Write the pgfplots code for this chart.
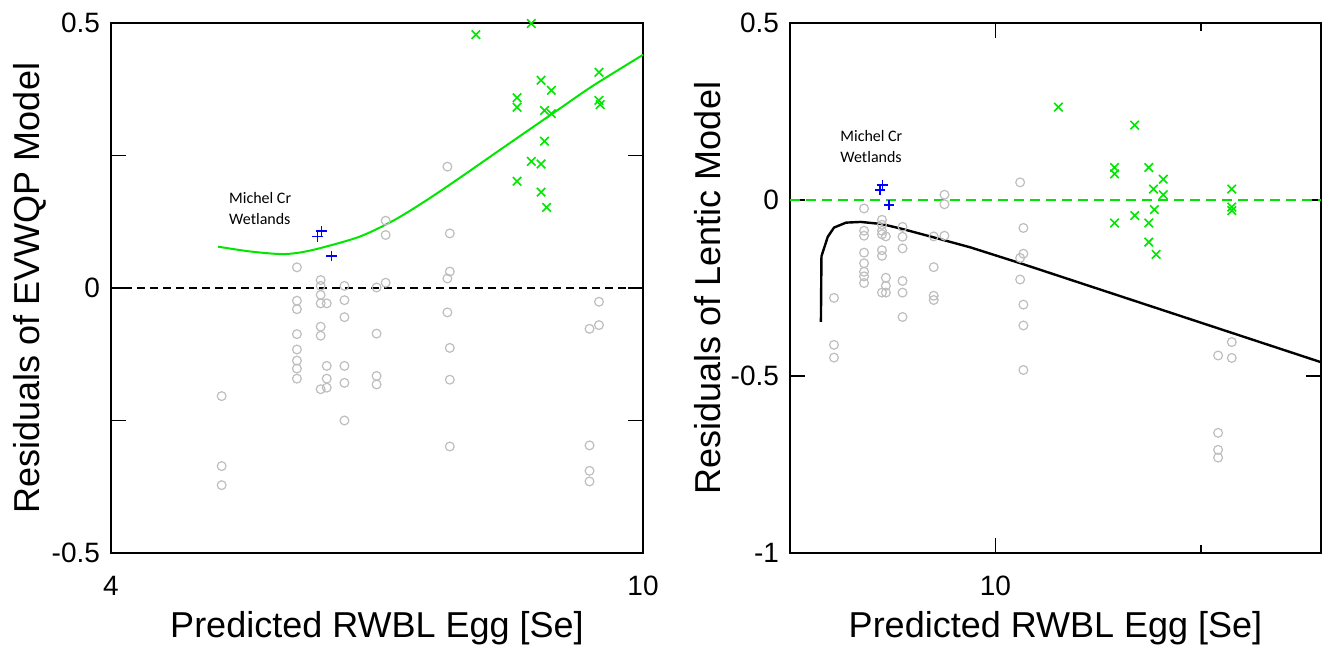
\documentclass[border=0pt]{standalone}
\usepackage{fontspec}
\setmainfont{Liberation Sans}
\newfontfamily\calibri{Carlito}
\usepackage{pgfplots}
\pgfplotsset{compat=1.18}

\definecolor{ptgray}{RGB}{190,190,190}
\definecolor{ptgreen}{RGB}{0,230,0}
\definecolor{ptblue}{RGB}{0,0,255}

\pgfplotsset{
  resid/.style={
    scale only axis, width=266pt, height=265pt,
    anchor=south west, clip=false,
    axis line style={line width=1pt},
    tick align=inside, major tick length=7.5pt, minor tick length=4pt,
    every tick/.style={black, line width=0.9pt},
    tick label style={font=\fontsize{14}{16}\selectfont},
    yticklabel style={xshift=-2pt},
    xticklabel style={yshift=-8pt},
    label style={font=\fontsize{18}{21}\selectfont},
    xlabel style={at={(axis description cs:0.5,-0.1415)}, anchor=center},
    xlabel={Predicted RWBL Egg [Se]},
  },
  grayo/.style={only marks, mark=o, mark size=2.2pt, draw=ptgray, mark options={line width=0.6pt}},
  greenx/.style={only marks, mark=x, mark size=3pt, draw=ptgreen, mark options={line width=0.8pt}},
  bluep/.style={only marks, mark=+, mark size=2.6pt, draw=ptblue, mark options={line width=0.8pt}},
}

\begin{document}
\begin{tikzpicture}
\path[use as bounding box] (0,0) rectangle (665pt,325pt);

% left: EVWQP model
\begin{axis}[xmode=log, resid, at={(55.5pt,48.5pt)},
  xmin=4, xmax=10, ymin=-0.5, ymax=0.5,
  xtick={4,10}, xticklabels={4,10}, minor xtick={},
  ytick={-0.5,-0.25,0,0.25,0.5}, yticklabels={-0.5,{},0,{},0.5},
  ylabel={Residuals of EVWQP Model},
  ylabel style={at={(axis description cs:-0.152,0.5)}, anchor=center},
]
\addplot[grayo] coordinates {
 (4.84,-0.204)(4.84,-0.336)(4.84,-0.372)
 (5.51,0.039)(5.51,-0.024)(5.51,-0.040)(5.51,-0.087)(5.51,-0.116)(5.51,-0.137)(5.51,-0.152)(5.51,-0.171)
 (5.74,0.015)(5.74,0.004)(5.74,-0.013)(5.74,-0.029)(5.74,-0.073)(5.74,-0.090)(5.74,-0.191)
 (5.80,-0.029)(5.80,-0.147)(5.80,-0.171)(5.80,-0.188)
 (5.98,0.004)(5.98,-0.023)(5.98,-0.055)(5.98,-0.147)(5.98,-0.179)(5.98,-0.250)
 (6.32,0.001)(6.32,-0.086)(6.32,-0.166)(6.32,-0.182)
 (6.42,0.127)(6.42,0.100)(6.42,0.010)
 (7.14,0.229)(7.14,0.018)(7.14,-0.046)
 (7.17,0.103)(7.17,0.031)(7.17,-0.113)(7.17,-0.173)(7.17,-0.299)
 (9.12,-0.077)(9.12,-0.297)(9.12,-0.345)(9.12,-0.365)
 (9.27,-0.026)(9.27,-0.070)
};
\addplot[black, dashed, line width=1pt, dash pattern=on 4pt off 2.5pt] coordinates {(4,0)(10,0)};
\addplot[ptgreen, line width=1pt, smooth] coordinates {
 (4.81,0.078)(5.08,0.069)(5.36,0.064)(5.54,0.067)(5.75,0.076)(6.14,0.097)(6.51,0.1276)
 (6.89,0.1657)(7.30,0.2084)(7.73,0.252)(8.18,0.295)(8.67,0.339)(9.18,0.382)(10,0.440)
};
\addplot[greenx] coordinates {
 (7.50,0.478)(8.25,0.499)(8.39,0.392)(8.54,0.373)(8.05,0.359)(8.05,0.341)(8.44,0.335)(8.54,0.329)
 (9.27,0.407)(9.27,0.354)(9.29,0.346)(8.44,0.277)(8.25,0.239)(8.39,0.234)(8.05,0.2015)(8.39,0.181)(8.47,0.152)
};
\addplot[bluep] coordinates {(5.75,0.108)(5.71,0.097)(5.85,0.060)};
\node[font=\calibri\fontsize{8}{10.5}\selectfont, align=left, anchor=west, inner sep=0pt]
  at (axis cs:4.9,0.15) {Michel Cr\\Wetlands};
\end{axis}

% right: Lentic model
\begin{axis}[xmode=log, resid, at={(395pt,48.5pt)}, width=265.5pt,
  xmin=5, xmax=30, ymin=-1, ymax=0.5,
  xtick={10}, xticklabels={10}, minor xtick={20},
  ytick={-1,-0.5,0,0.5}, yticklabels={-1,-0.5,0,0.5},
  ylabel={Residuals of Lentic Model},
  ylabel style={at={(axis description cs:-0.1544,0.5)}, anchor=center},
]
\addplot[grayo] coordinates {
 (5.80,-0.278)(5.80,-0.411)(5.80,-0.447)
 (6.42,-0.025)(6.42,-0.088)(6.42,-0.102)(6.42,-0.150)(6.42,-0.180)(6.42,-0.204)(6.42,-0.217)(6.42,-0.236)
 (6.82,-0.057)(6.82,-0.071)(6.82,-0.088)(6.82,-0.098)(6.82,-0.143)(6.82,-0.159)(6.82,-0.263)
 (6.91,-0.104)(6.91,-0.221)(6.91,-0.244)(6.91,-0.263)
 (7.31,-0.077)(7.31,-0.105)(7.31,-0.138)(7.31,-0.230)(7.31,-0.263)(7.31,-0.332)
 (8.12,-0.104)(8.12,-0.191)(8.12,-0.272)(8.12,-0.284)
 (8.42,0.014)(8.42,-0.013)(8.42,-0.102)
 (10.87,0.049)(10.99,-0.080)(10.99,-0.153)(10.87,-0.165)(10.87,-0.226)(10.99,-0.297)(10.99,-0.356)(10.99,-0.482)
 (21.2,-0.441)(21.2,-0.660)(21.2,-0.708)(21.2,-0.730)
 (22.2,-0.403)(22.2,-0.448)
};
\addplot[ptgreen, line width=1pt, dash pattern=on 5pt off 3pt] coordinates {(5,0)(30,0)};
\addplot[black, line width=1.2pt] coordinates {
 (5.55,-0.346)(5.555,-0.25)(5.56,-0.16)(5.68,-0.105)(5.80,-0.079)(6.04,-0.065)(6.35,-0.063)
 (6.82,-0.069)(7.31,-0.083)(8.13,-0.107)(9.19,-0.135)(10.84,-0.179)(30,-0.460)
};
\addplot[greenx] coordinates {
 (12.37,0.262)(16.0,0.211)(14.95,0.091)(14.95,0.073)(16.78,0.091)(17.62,0.058)(17.05,0.030)(17.62,0.014)
 (17.1,-0.028)(14.95,-0.066)(16.0,-0.045)(16.78,-0.066)(16.78,-0.120)(17.2,-0.155)
 (22.2,0.030)(22.2,-0.021)(22.2,-0.031)
};
\addplot[bluep] coordinates {(6.83,0.041)(6.77,0.028)(6.99,-0.015)};
\node[font=\calibri\fontsize{8}{10.5}\selectfont, align=left, anchor=west, inner sep=0pt]
  at (axis cs:5.92,0.15) {Michel Cr\\Wetlands};
\end{axis}
\end{tikzpicture}
\end{document}
